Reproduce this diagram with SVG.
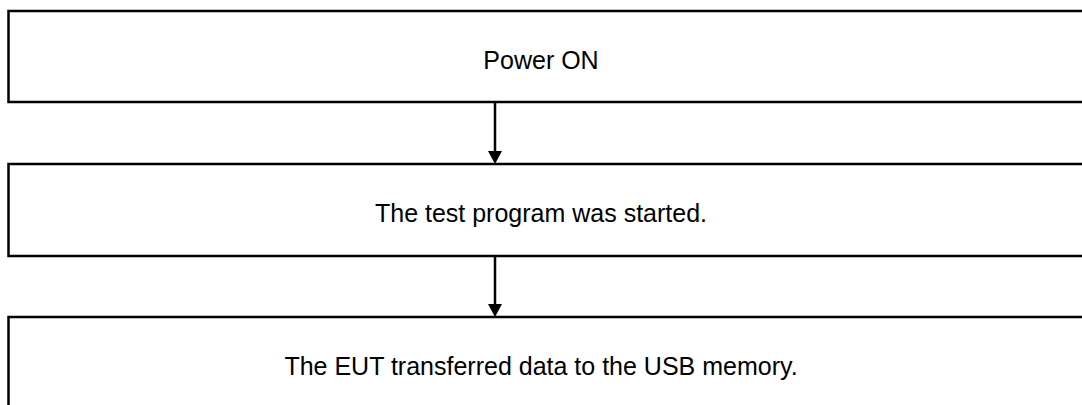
<svg xmlns="http://www.w3.org/2000/svg" width="1082" height="405" viewBox="0 0 1082 405">
<style>
.box{fill:#fff;stroke:#000;stroke-width:2.5}
.lbl{font-family:"Liberation Sans",Arial,sans-serif;font-size:25px;fill:#000;text-anchor:middle}
.conn{stroke:#000;stroke-width:2.5;fill:none}
</style>
<rect width="1082" height="405" fill="#fff"/>
<g id="node1"><rect class="box" x="8.5" y="11" width="1090" height="91"/><text class="lbl" x="541" y="69">Power ON</text></g>
<g id="node2"><rect class="box" x="8.5" y="164" width="1090" height="92"/><text class="lbl" x="541" y="222">The test program was started.</text></g>
<g id="node3"><rect class="box" x="8.5" y="317" width="1090" height="120"/><text class="lbl" x="541" y="375">The EUT transferred data to the USB memory.</text></g>
<g id="connectors">
<line class="conn" x1="495" y1="102" x2="495" y2="152"/>
<polygon points="488,151 502,151 495,164" fill="#000"/>
<line class="conn" x1="495" y1="256" x2="495" y2="305"/>
<polygon points="488,304 502,304 495,317" fill="#000"/>
</g>
</svg>
